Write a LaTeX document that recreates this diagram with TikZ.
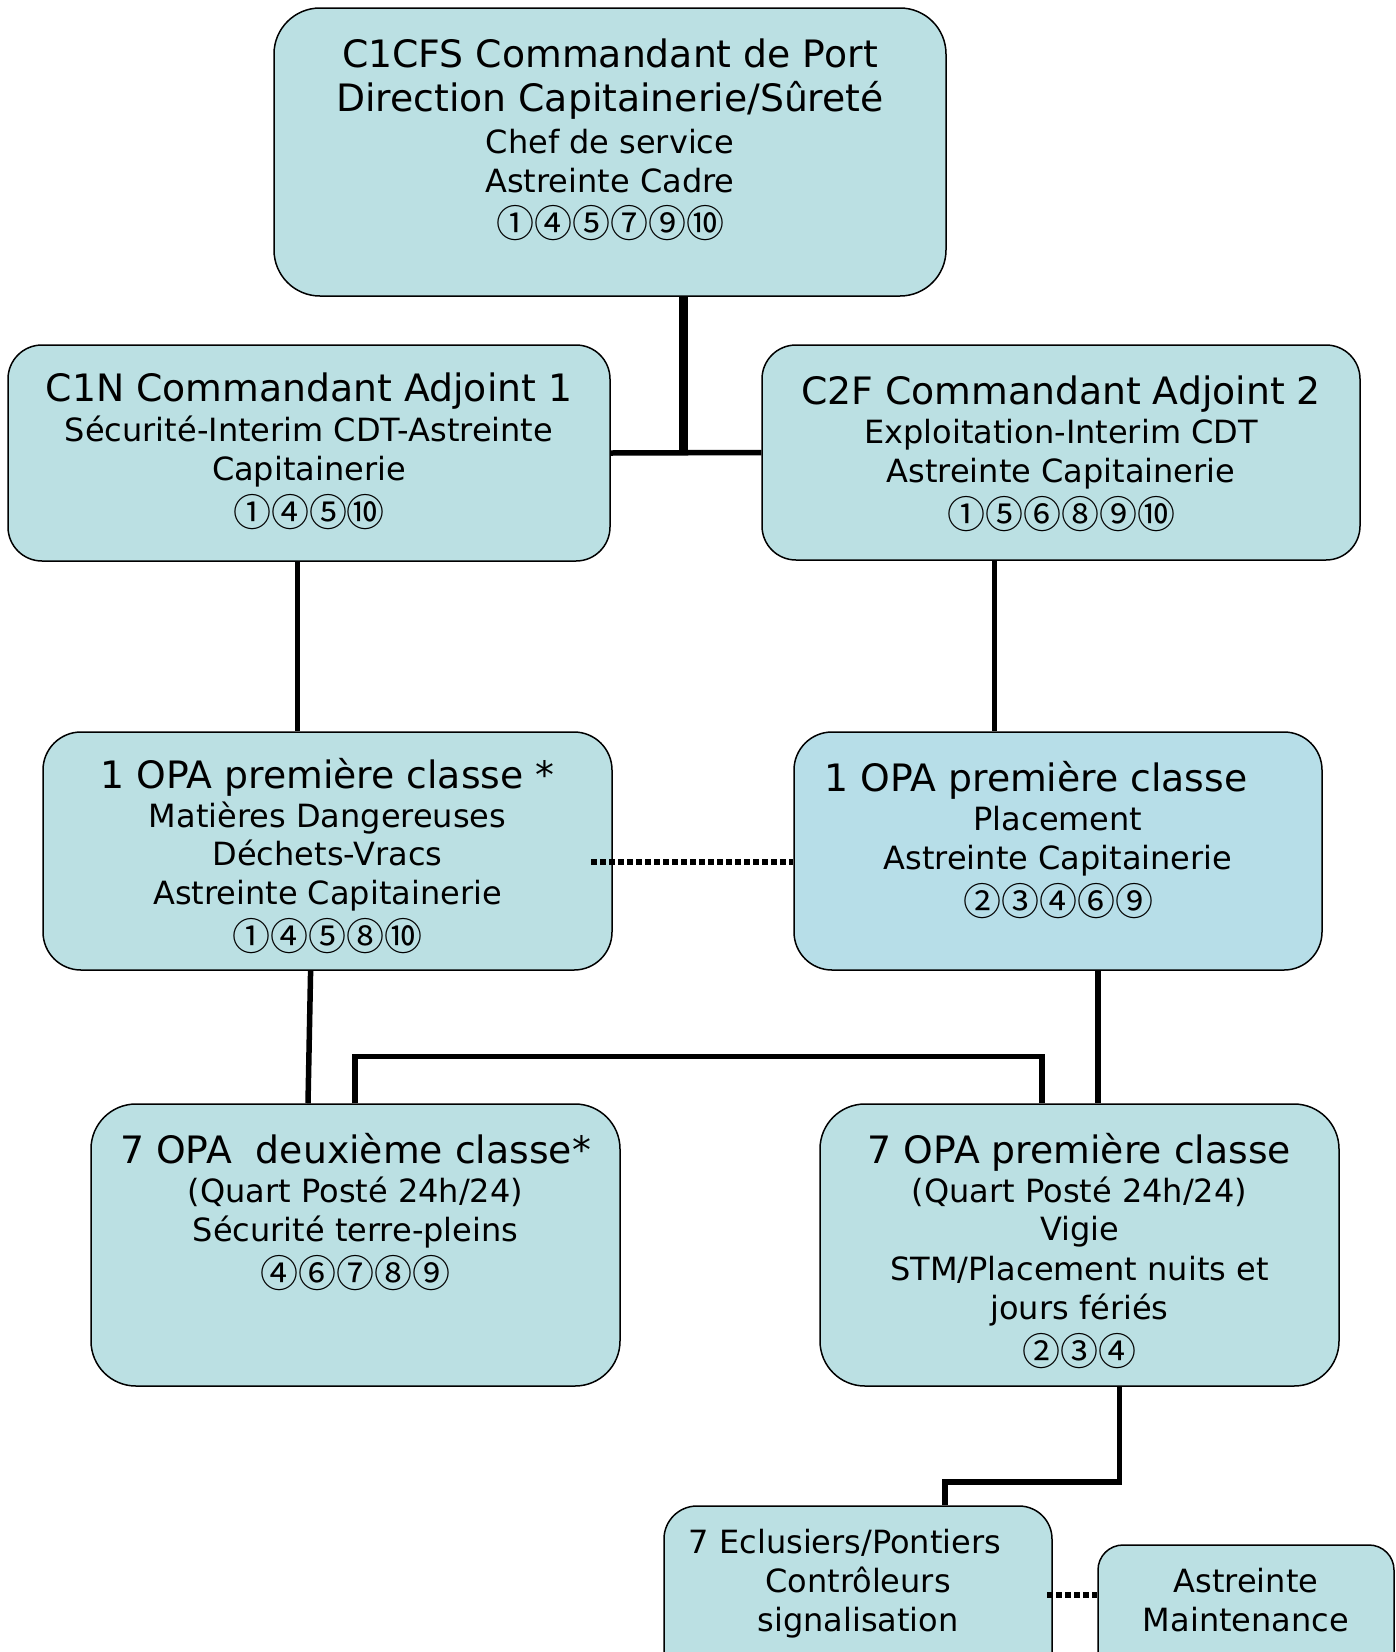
\documentclass[tikz,border=0pt]{standalone}
\usepackage{fontspec}
\setmainfont{DejaVu Sans}
\newfontfamily\cjkfam{Noto Sans CJK JP}
\lineskiplimit=-1000pt
\newcommand\bigf{\fontsize{37.75}{0}\selectfont}
\newcommand\smallf{\fontsize{32}{0}\selectfont}
\newcommand\circf{\cjkfam\fontsize{38}{0}\selectfont}
\definecolor{boxfill}{HTML}{BBE0E3}
\definecolor{boxfillb}{HTML}{B7DEE8}
\tikzset{
  box/.style={draw=black, line width=1.5pt, fill=boxfill, rectangle, inner sep=0pt},
  txt/.style={anchor=north, inner sep=0pt, align=center, font=\smallf},
  conn/.style={line width=5.5pt},
  trunk/.style={line width=9pt},
  dotline/.style={line width=5.5pt, dash pattern=on 5.5pt off 3.5pt},
}
\begin{document}
\begin{tikzpicture}[x=1pt, y=-1pt]
\clip (0,0) rectangle (1396,1652);
\fill[white] (0,0) rectangle (1396,1652);
% boxes
\node[box, minimum width=672pt, minimum height=288pt, rounded corners=46pt] (top) at (610,152) {};
\node[box, minimum width=602pt, minimum height=216pt, rounded corners=34pt] (c1n) at (309,453) {};
\node[box, minimum width=598pt, minimum height=215pt, rounded corners=34pt] (c2f) at (1061,452.5) {};
\node[box, minimum width=569pt, minimum height=238pt, rounded corners=38pt] (opal) at (327.5,851) {};
\node[box, fill=boxfillb, minimum width=528pt, minimum height=238pt, rounded corners=38pt] (opar) at (1058,851) {};
\node[box, minimum width=529pt, minimum height=282pt, rounded corners=45pt] (deux) at (355.5,1245) {};
\node[box, minimum width=519pt, minimum height=282pt, rounded corners=45pt] (prem) at (1079.5,1245) {};
\node[box, minimum width=388pt, minimum height=184pt, rounded corners=33pt] (ecl) at (858,1598) {};
\node[box, minimum width=296pt, minimum height=145pt, rounded corners=25pt] (astr) at (1246,1617.5) {};
% junction coordinates
\coordinate (j1) at (683.5,453);
\coordinate (j2) at (297.5,0);
\coordinate (j3) at (994.5,0);
\coordinate (j4) at (310.6,0);
\coordinate (j5) at (308,0);
\coordinate (j6) at (355,1056.5);
\coordinate (j7) at (1042,1056.5);
\coordinate (j8) at (1098,0);
\coordinate (j9) at (1119.5,1482);
\coordinate (j10) at (945,1482);
\coordinate (d1) at (591,862);
\coordinate (d2) at (1047,1595);
% connectors
\draw[trunk] (top.south -| j1) -- (j1);
\draw[conn] (c1n.east) -- (c2f.west);
\draw[conn] (c1n.south -| j2) -- (opal.north -| j2);
\draw[conn] (c2f.south -| j3) -- (opar.north -| j3);
\draw[dotline] (d1) -- (opar.west |- d1);
\draw[conn] (opal.south -| j4) -- (deux.north -| j5);
\draw[conn] (deux.north -| j6) -- (j6) -- (j7) -- (prem.north -| j7);
\draw[conn] (opar.south -| j8) -- (prem.north -| j8);
\draw[conn] (prem.south -| j9) -- (j9) -- (j10) -- (ecl.north -| j10);
\draw[dotline] (d2) -- (astr.west |- d2);
% texts
\node[txt] (toptxt) at (610,31) {{\bigf\rule{0pt}{36pt}C1CFS Commandant de Port}\\[44pt]{\bigf Direction Capitainerie/Sûreté}\\[42pt]Chef de service\\[39pt]Astreinte Cadre\\[45pt]{\circf ①④⑤⑦⑨⑩}};
\node[txt] (c1ntxt) at (309,365) {{\bigf\rule{0pt}{36pt}C1N Commandant Adjoint 1}\\[40pt]Sécurité-Interim CDT-Astreinte\\[39pt]Capitainerie\\[46pt]{\circf ①④⑤⑩}};
\node[txt] (c2ftxt) at (1061,368) {{\bigf\rule{0pt}{36pt}C2F Commandant Adjoint 2}\\[39.5pt]Exploitation-Interim CDT\\[39pt]Astreinte Capitainerie\\[46pt]{\circf ①⑤⑥⑧⑨⑩}};
\node[txt] (opaltxt) at (327.5,752.5) {{\bigf\rule{0pt}{36pt}1 OPA première classe *}\\[38.5pt]Matières Dangereuses\\[38.5pt]Déchets-Vracs\\[38.5pt]Astreinte Capitainerie\\[46.5pt]{\circf ①④⑤⑧⑩}};
\node[txt] (opartxt) at (1058,755) {{\bigf\rule{0pt}{36pt}1 OPA première classe\rule{44pt}{0pt}}\\[39.5pt]Placement\\[39pt]Astreinte Capitainerie\\[46pt]{\circf ②③④⑥⑨}};
\node[txt] (deuxtxt) at (355.5,1127) {{\bigf\rule{0pt}{36pt}7 OPA\ \ deuxième classe*}\\[39pt](Quart Posté 24h/24)\\[39pt]Sécurité terre-pleins\\[46pt]{\circf ④⑥⑦⑧⑨}};
\node[txt] (premtxt) at (1079.5,1127) {{\bigf\rule{0pt}{36pt}7 OPA première classe}\\[39pt](Quart Posté 24h/24)\\[38.5pt]Vigie\\[39.5pt]STM/Placement nuits et\\[39pt]jours fériés\\[46pt]{\circf ②③④}};
\node[txt] (ecltxt) at (858,1523) {\rule{0pt}{30pt}7 Eclusiers/Pontiers\rule{26pt}{0pt}\\[39pt]Contrôleurs\\[39pt]signalisation};
\node[txt] (astrtxt) at (1246,1562) {\rule{0pt}{30pt}Astreinte\\[39pt]Maintenance};
\end{tikzpicture}
\end{document}
